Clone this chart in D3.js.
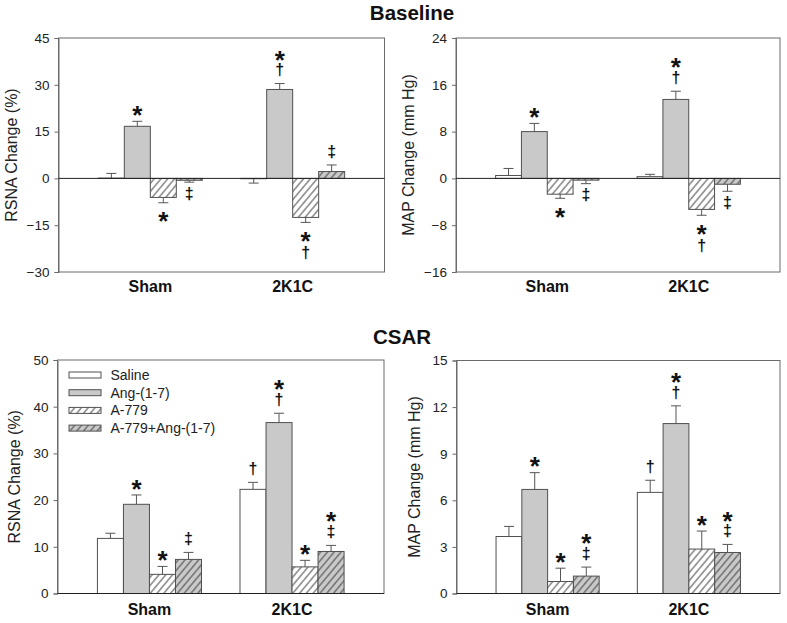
<!DOCTYPE html>
<html>
<head>
<meta charset="utf-8">
<script src="https://cdn.jsdelivr.net/npm/d3@7"></script>
<style>
  html, body { margin: 0; padding: 0; background: #fff; }
  svg { display: block; font-family: "Liberation Sans", Arial, sans-serif; }
</style>
</head>
<body>
<svg id="chart" width="787" height="623"></svg>
<script>
// ---------- data ----------
const groups = ["Sham", "2K1C"];
const series = ["Saline", "Ang-(1-7)", "A-779", "A-779+Ang-(1-7)"];

const baseRsnaSham = [0.1, 16.7, -6.1, -0.6];
const baseRsnaShamErr = [1.5, 1.6, 1.7, 0.6];
const baseRsna2k1c = [-0.1, 28.5, -12.5, 2.2];
const baseRsna2k1cErr = [1.4, 1.9, 1.6, 2.1];

const baseMapSham = [0.5, 8.0, -2.7, -0.3];
const baseMapShamErr = [1.2, 1.4, 0.7, 0.6];
const baseMap2k1c = [0.3, 13.5, -5.3, -1.0];
const baseMap2k1cErr = [0.4, 1.4, 1.0, 1.2];

const csarRsnaSham = [11.8, 19.1, 4.1, 7.3];
const csarRsnaShamErr = [1.1, 2.0, 1.7, 1.5];
const csarRsna2k1c = [22.3, 36.6, 5.7, 9.0];
const csarRsna2k1cErr = [1.5, 2.0, 1.4, 1.3];

const csarMapSham = [3.67, 6.7, 0.77, 1.12];
const csarMapShamErr = [0.65, 1.08, 0.86, 0.58];
const csarMap2k1c = [6.51, 10.94, 2.86, 2.64];
const csarMap2k1cErr = [0.78, 1.14, 1.16, 0.52];

// significance marks, read top-to-bottom
const baseRsnaSig = [["", "*", "*", "‡"], ["", "*†", "*†", "‡"]];
const baseMapSig = [["", "*", "*", "‡"], ["", "*†", "*†", "‡"]];
const csarRsnaSig = [["", "*", "*", "‡"], ["†", "*†", "*", "*‡"]];
const csarMapSig = [["", "*", "*", "*‡"], ["†", "*†", "*", "*‡"]];

const baseRsnaTicks = [-30, -15, 0, 15, 30, 45];
const baseMapTicks = [-16, -8, 0, 8, 16, 24];
const csarRsnaTicks = [0, 10, 20, 30, 40, 50];
const csarMapTicks = [0, 3, 6, 9, 12, 15];

const titles = ["Baseline", "CSAR"];
const yLabels = ["RSNA Change (%)", "MAP Change (mm Hg)"];

// ---------- drawing ----------
const svg = d3.select("#chart");
const defs = svg.append("defs");
const pat = defs.append("pattern")
  .attr("id", "hatch").attr("patternUnits", "userSpaceOnUse")
  .attr("width", 5.2).attr("height", 10)
  .attr("patternTransform", "rotate(40)");
pat.append("line").attr("x1", 2.6).attr("y1", -1).attr("x2", 2.6).attr("y2", 11)
  .attr("stroke", "#333").attr("stroke-width", 0.9);

const GRAY = "#c9c9c9";
const fills = ["#ffffff", GRAY, "#ffffff", GRAY];
const hatched = [false, false, true, true];
const lineCol = "#555";

function panel(opt) {
  const g = svg.append("g").attr("transform", `translate(${opt.x},${opt.y})`);
  const W = opt.w, H = opt.h;
  const y = d3.scaleLinear().domain([opt.ticks[0], opt.ticks[opt.ticks.length - 1]]).range([H, 0]);
  const x0 = d3.scaleBand().domain(groups).range([0, W]).paddingInner(0.27).paddingOuter(0.28);
  const x1 = d3.scaleBand().domain(series).range([0, x0.bandwidth()]).padding(0);

  g.append("rect").attr("x", 0).attr("y", 0).attr("width", W).attr("height", H)
    .attr("fill", "none").attr("stroke", "#6a6a6a").attr("stroke-width", 1);

  const ax = g.append("g").call(d3.axisLeft(y).tickValues(opt.ticks).tickSize(4).tickPadding(5));
  ax.select(".domain").attr("stroke", "#6a6a6a");
  ax.selectAll(".tick line").attr("stroke", "#6a6a6a");
  ax.selectAll(".tick text").attr("font-size", 13.5).attr("fill", "#222")
    .attr("font-family", "'Liberation Sans', Arial, sans-serif");

  g.append("text").attr("transform", `translate(${-opt.labOff},${H / 2}) rotate(-90)`)
    .attr("text-anchor", "middle").attr("font-size", 16).attr("fill", "#222").text(opt.ylab);

  g.selectAll(".glab").data(groups).enter().append("text")
    .attr("x", d => x0(d) + x0.bandwidth() / 2).attr("y", H + opt.gOff)
    .attr("text-anchor", "middle").attr("font-size", 16).attr("font-weight", "bold")
    .attr("fill", "#111").text(d => d);

  const rows = groups.map((grp, gi) => series.map((s, si) => ({
    grp, s, si, v: opt.vals[gi][si], e: opt.errs[gi][si], sig: opt.sig[gi][si]
  }))).flat();

  const bx = d => x0(d.grp) + x1(d.s);
  const bw = x1.bandwidth();
  const ends = d => y(d.v >= 0 ? d.v + d.e : d.v - d.e);

  const eb = g.selectAll(".eb").data(rows).enter().append("g");
  eb.append("line")
    .attr("x1", d => bx(d) + bw / 2).attr("x2", d => bx(d) + bw / 2)
    .attr("y1", d => y(d.v)).attr("y2", ends)
    .attr("stroke", lineCol).attr("stroke-width", 1);
  eb.append("line")
    .attr("x1", d => bx(d) + bw / 2 - 5).attr("x2", d => bx(d) + bw / 2 + 5)
    .attr("y1", ends).attr("y2", ends)
    .attr("stroke", lineCol).attr("stroke-width", 1);

  const bars = g.selectAll(".bar").data(rows).enter().append("g");
  const barRect = sel => sel.append("rect")
    .attr("x", bx).attr("width", bw)
    .attr("y", d => y(Math.max(0, d.v))).attr("height", d => Math.abs(y(d.v) - y(0)));
  barRect(bars).attr("fill", d => fills[d.si]).attr("stroke", "none");
  barRect(bars.filter(d => hatched[d.si])).attr("fill", "url(#hatch)");
  barRect(bars).attr("fill", "none").attr("stroke", "#505050").attr("stroke-width", 1);

  g.append("line").attr("x1", 0).attr("x2", W).attr("y1", y(0)).attr("y2", y(0))
    .attr("stroke", "#222").attr("stroke-width", 1);

  // significance marks: one text per bar, stacked tspans
  rows.filter(d => d.sig).forEach(d => {
    const cx = bx(d) + bw / 2;
    const chars = Array.from(d.sig);
    const n = chars.length;
    const t = g.append("text").attr("text-anchor", "middle").attr("font-weight", "bold").attr("fill", "#111");
    chars.forEach((c, i) => {
      let cy;
      if (d.v >= 0) cy = ends(d) - 13 - (n - 1 - i) * 17.5;
      else cy = ends(d) + 12 + i * 18.5;
      const star = c === "*";
      const fs = star ? 26 : 16;
      const k = star ? 0.6 : 0.3;
      t.append("tspan").attr("x", cx).attr("y", cy + k * fs).attr("font-size", fs).text(c);
    });
  });

  return { g, x0, x1, y };
}

panel({ x: 58.5, y: 38, w: 326, h: 234, ticks: baseRsnaTicks, ylab: yLabels[0], labOff: 42, gOff: 19.5,
  vals: [baseRsnaSham, baseRsna2k1c], errs: [baseRsnaShamErr, baseRsna2k1cErr], sig: baseRsnaSig });
panel({ x: 456, y: 38, w: 324, h: 234, ticks: baseMapTicks, ylab: yLabels[1], labOff: 42, gOff: 19.5,
  vals: [baseMapSham, baseMap2k1c], errs: [baseMapShamErr, baseMap2k1cErr], sig: baseMapSig });
const p3 = panel({ x: 57.5, y: 360, w: 326.5, h: 233.5, ticks: csarRsnaTicks, ylab: yLabels[0], labOff: 38, gOff: 21.5,
  vals: [csarRsnaSham, csarRsna2k1c], errs: [csarRsnaShamErr, csarRsna2k1cErr], sig: csarRsnaSig });
panel({ x: 456.5, y: 360.5, w: 323.5, h: 233, ticks: csarMapTicks, ylab: yLabels[1], labOff: 37, gOff: 21.5,
  vals: [csarMapSham, csarMap2k1c], errs: [csarMapShamErr, csarMap2k1cErr], sig: csarMapSig });

svg.append("text").attr("x", 412).attr("y", 19.5).attr("text-anchor", "middle")
  .attr("font-size", 20.5).attr("font-weight", "bold").attr("fill", "#111").text(titles[0]);
svg.append("text").attr("x", 402).attr("y", 344).attr("text-anchor", "middle")
  .attr("font-size", 20.5).attr("font-weight", "bold").attr("fill", "#111").text(titles[1]);

const leg = p3.g.append("g").attr("transform", "translate(11.5,15)");
series.forEach((s, i) => {
  const row = leg.append("g").attr("transform", `translate(0,${i * 17.7})`);
  const sw = () => row.append("rect").attr("x", 0).attr("y", -3).attr("width", 32).attr("height", 6);
  sw().attr("fill", fills[i]).attr("stroke", "none");
  if (hatched[i]) sw().attr("fill", "url(#hatch)");
  sw().attr("fill", "none").attr("stroke", "#505050").attr("stroke-width", 1);
  row.append("text").attr("x", 41.5).attr("y", 5).attr("font-size", 14).attr("fill", "#222").text(s);
});
</script>
</body>
</html>
